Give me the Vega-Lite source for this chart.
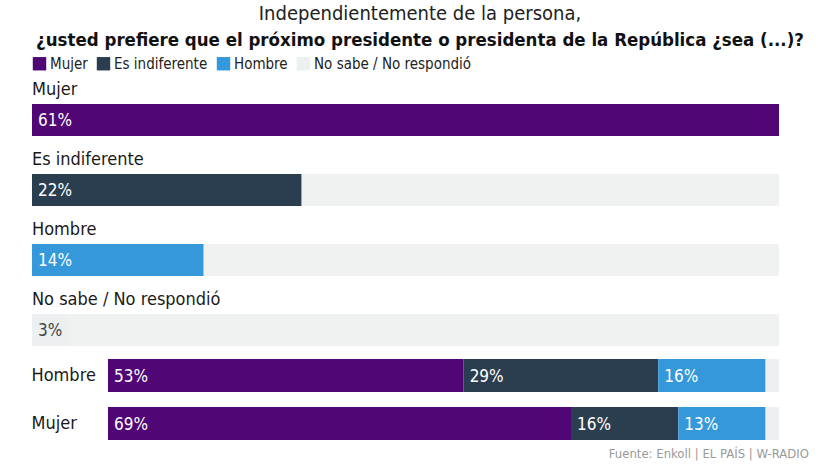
{
  "$schema": "https://vega.github.io/schema/vega-lite/v6.json",
  "padding": {"left": 31, "top": 3, "right": 0, "bottom": 0},
  "background": "white",
  "title": {
    "text": "Independientemente de la persona,",
    "subtitle": "¿usted prefiere que el próximo presidente o presidenta de la República ¿sea (...)?",
    "anchor": "middle",
    "font": "DejaVu Sans Condensed, sans-serif",
    "fontSize": 20,
    "fontWeight": "normal",
    "color": "#222",
    "subtitleFont": "DejaVu Sans Condensed, sans-serif",
    "subtitleFontSize": 18.5,
    "subtitleFontWeight": "bold",
    "subtitleColor": "#111",
    "subtitlePadding": 7,
    "offset": 7
  },
  "datasets": {
    "total": [
      {"resp": "Mujer", "pct": 61},
      {"resp": "Es indiferente", "pct": 22},
      {"resp": "Hombre", "pct": 14},
      {"resp": "No sabe / No respondió", "pct": 3}
    ],
    "sexo": [
      {"grupo": "Hombre", "resp": "Mujer", "pct": 53},
      {"grupo": "Hombre", "resp": "Es indiferente", "pct": 29},
      {"grupo": "Hombre", "resp": "Hombre", "pct": 16},
      {"grupo": "Hombre", "resp": "No sabe / No respondió", "pct": 2},
      {"grupo": "Mujer", "resp": "Mujer", "pct": 69},
      {"grupo": "Mujer", "resp": "Es indiferente", "pct": 16},
      {"grupo": "Mujer", "resp": "Hombre", "pct": 13},
      {"grupo": "Mujer", "resp": "No sabe / No respondió", "pct": 2}
    ]
  },
  "spacing": 13,
  "vconcat": [
    {
      "width": 747,
      "height": 272,
      "data": {"name": "total"},
      "transform": [{"calculate": "datum.pct + '%'", "as": "lbl"}],
      "encoding": {
        "y": {
          "field": "resp",
          "type": "nominal",
          "axis": null,
          "scale": {
            "domain": ["Mujer", "Es indiferente", "Hombre", "No sabe / No respondió"],
            "paddingInner": 0.543,
            "paddingOuter": 0.214,
            "align": 1
          }
        }
      },
      "layer": [
        {
          "mark": {"type": "bar", "color": "#f0f1f1"},
          "encoding": {
            "x": {"datum": 61, "type": "quantitative", "axis": null, "scale": {"domain": [0, 61], "nice": false}}
          }
        },
        {
          "mark": {"type": "bar"},
          "encoding": {
            "x": {"field": "pct", "type": "quantitative"},
            "color": {
              "field": "resp",
              "type": "nominal",
              "scale": {
                "domain": ["Mujer", "Es indiferente", "Hombre", "No sabe / No respondió"],
                "range": ["#510675", "#2b3e50", "#3498db", "#ecf0f1"]
              },
              "legend": {
                "title": null,
                "orient": "top",
                "direction": "horizontal",
                "symbolType": "square",
                "symbolSize": 180,
                "symbolStrokeWidth": 0,
                "symbolOpacity": 1,
                "labelFont": "DejaVu Sans Condensed, sans-serif",
                "labelFontSize": 15,
                "labelLimit": 300,
                "labelColor": "#222",
                "columnPadding": 8,
                "labelOffset": 3,
                "offset": 2
              }
            }
          }
        },
        {
          "mark": {
            "type": "text",
            "align": "left",
            "baseline": "middle",
            "dx": 6,
            "dy": 1,
            "font": "DejaVu Sans Condensed, sans-serif",
            "fontSize": 17
          },
          "encoding": {
            "x": {"datum": 0, "type": "quantitative"},
            "text": {"field": "lbl"},
            "color": {
              "condition": {"test": "datum.resp === 'No sabe / No respondió'", "value": "#444"},
              "value": "white"
            }
          }
        },
        {
          "mark": {
            "type": "text",
            "align": "left",
            "baseline": "bottom",
            "dy": -5,
            "font": "DejaVu Sans Condensed, sans-serif",
            "fontSize": 18,
            "color": "#1a1a1a"
          },
          "encoding": {
            "x": {"datum": 0, "type": "quantitative"},
            "y": {"field": "resp", "type": "nominal", "bandPosition": 0},
            "text": {"field": "resp"}
          }
        }
      ]
    },
    {
      "width": 747,
      "height": 81,
      "data": {"name": "sexo"},
      "title": {
        "text": "Fuente: Enkoll | EL PAÍS | W-RADIO",
        "orient": "bottom",
        "anchor": "end",
        "dx": 30,
        "font": "DejaVu Sans Condensed, sans-serif",
        "fontSize": 13,
        "fontWeight": "normal",
        "color": "#999",
        "offset": 8
      },
      "transform": [
        {"calculate": "datum.pct + '%'", "as": "lbl"},
        {"calculate": "indexof(['Mujer','Es indiferente','Hombre','No sabe / No respondió'], datum.resp)", "as": "orden"},
        {"stack": "pct", "groupby": ["grupo"], "sort": [{"field": "orden"}], "as": ["x0", "x1"]}
      ],
      "encoding": {
        "y": {
          "field": "grupo",
          "type": "nominal",
          "scale": {"domain": ["Hombre", "Mujer"], "paddingInner": 0.3125, "paddingOuter": 0},
          "axis": {
            "title": null,
            "ticks": false,
            "domain": false,
            "labelAlign": "left",
            "labelPadding": 1,
            "labelFont": "DejaVu Sans Condensed, sans-serif",
            "labelFontSize": 18,
            "labelColor": "#1a1a1a"
          }
        }
      },
      "layer": [
        {
          "mark": {"type": "bar"},
          "encoding": {
            "x": {"field": "x0", "type": "quantitative", "axis": null, "scale": {"domain": [0, 100], "nice": false, "range": [76, 747]}},
            "x2": {"field": "x1"},
            "color": {"field": "resp", "type": "nominal"}
          }
        },
        {
          "transform": [{"filter": "datum.pct >= 5"}],
          "mark": {
            "type": "text",
            "align": "left",
            "baseline": "middle",
            "dx": 6,
            "dy": 1,
            "font": "DejaVu Sans Condensed, sans-serif",
            "fontSize": 17,
            "color": "white"
          },
          "encoding": {
            "x": {"field": "x0", "type": "quantitative"},
            "text": {"field": "lbl"}
          }
        }
      ]
    }
  ],
  "config": {
    "view": {"stroke": null}
  }
}
